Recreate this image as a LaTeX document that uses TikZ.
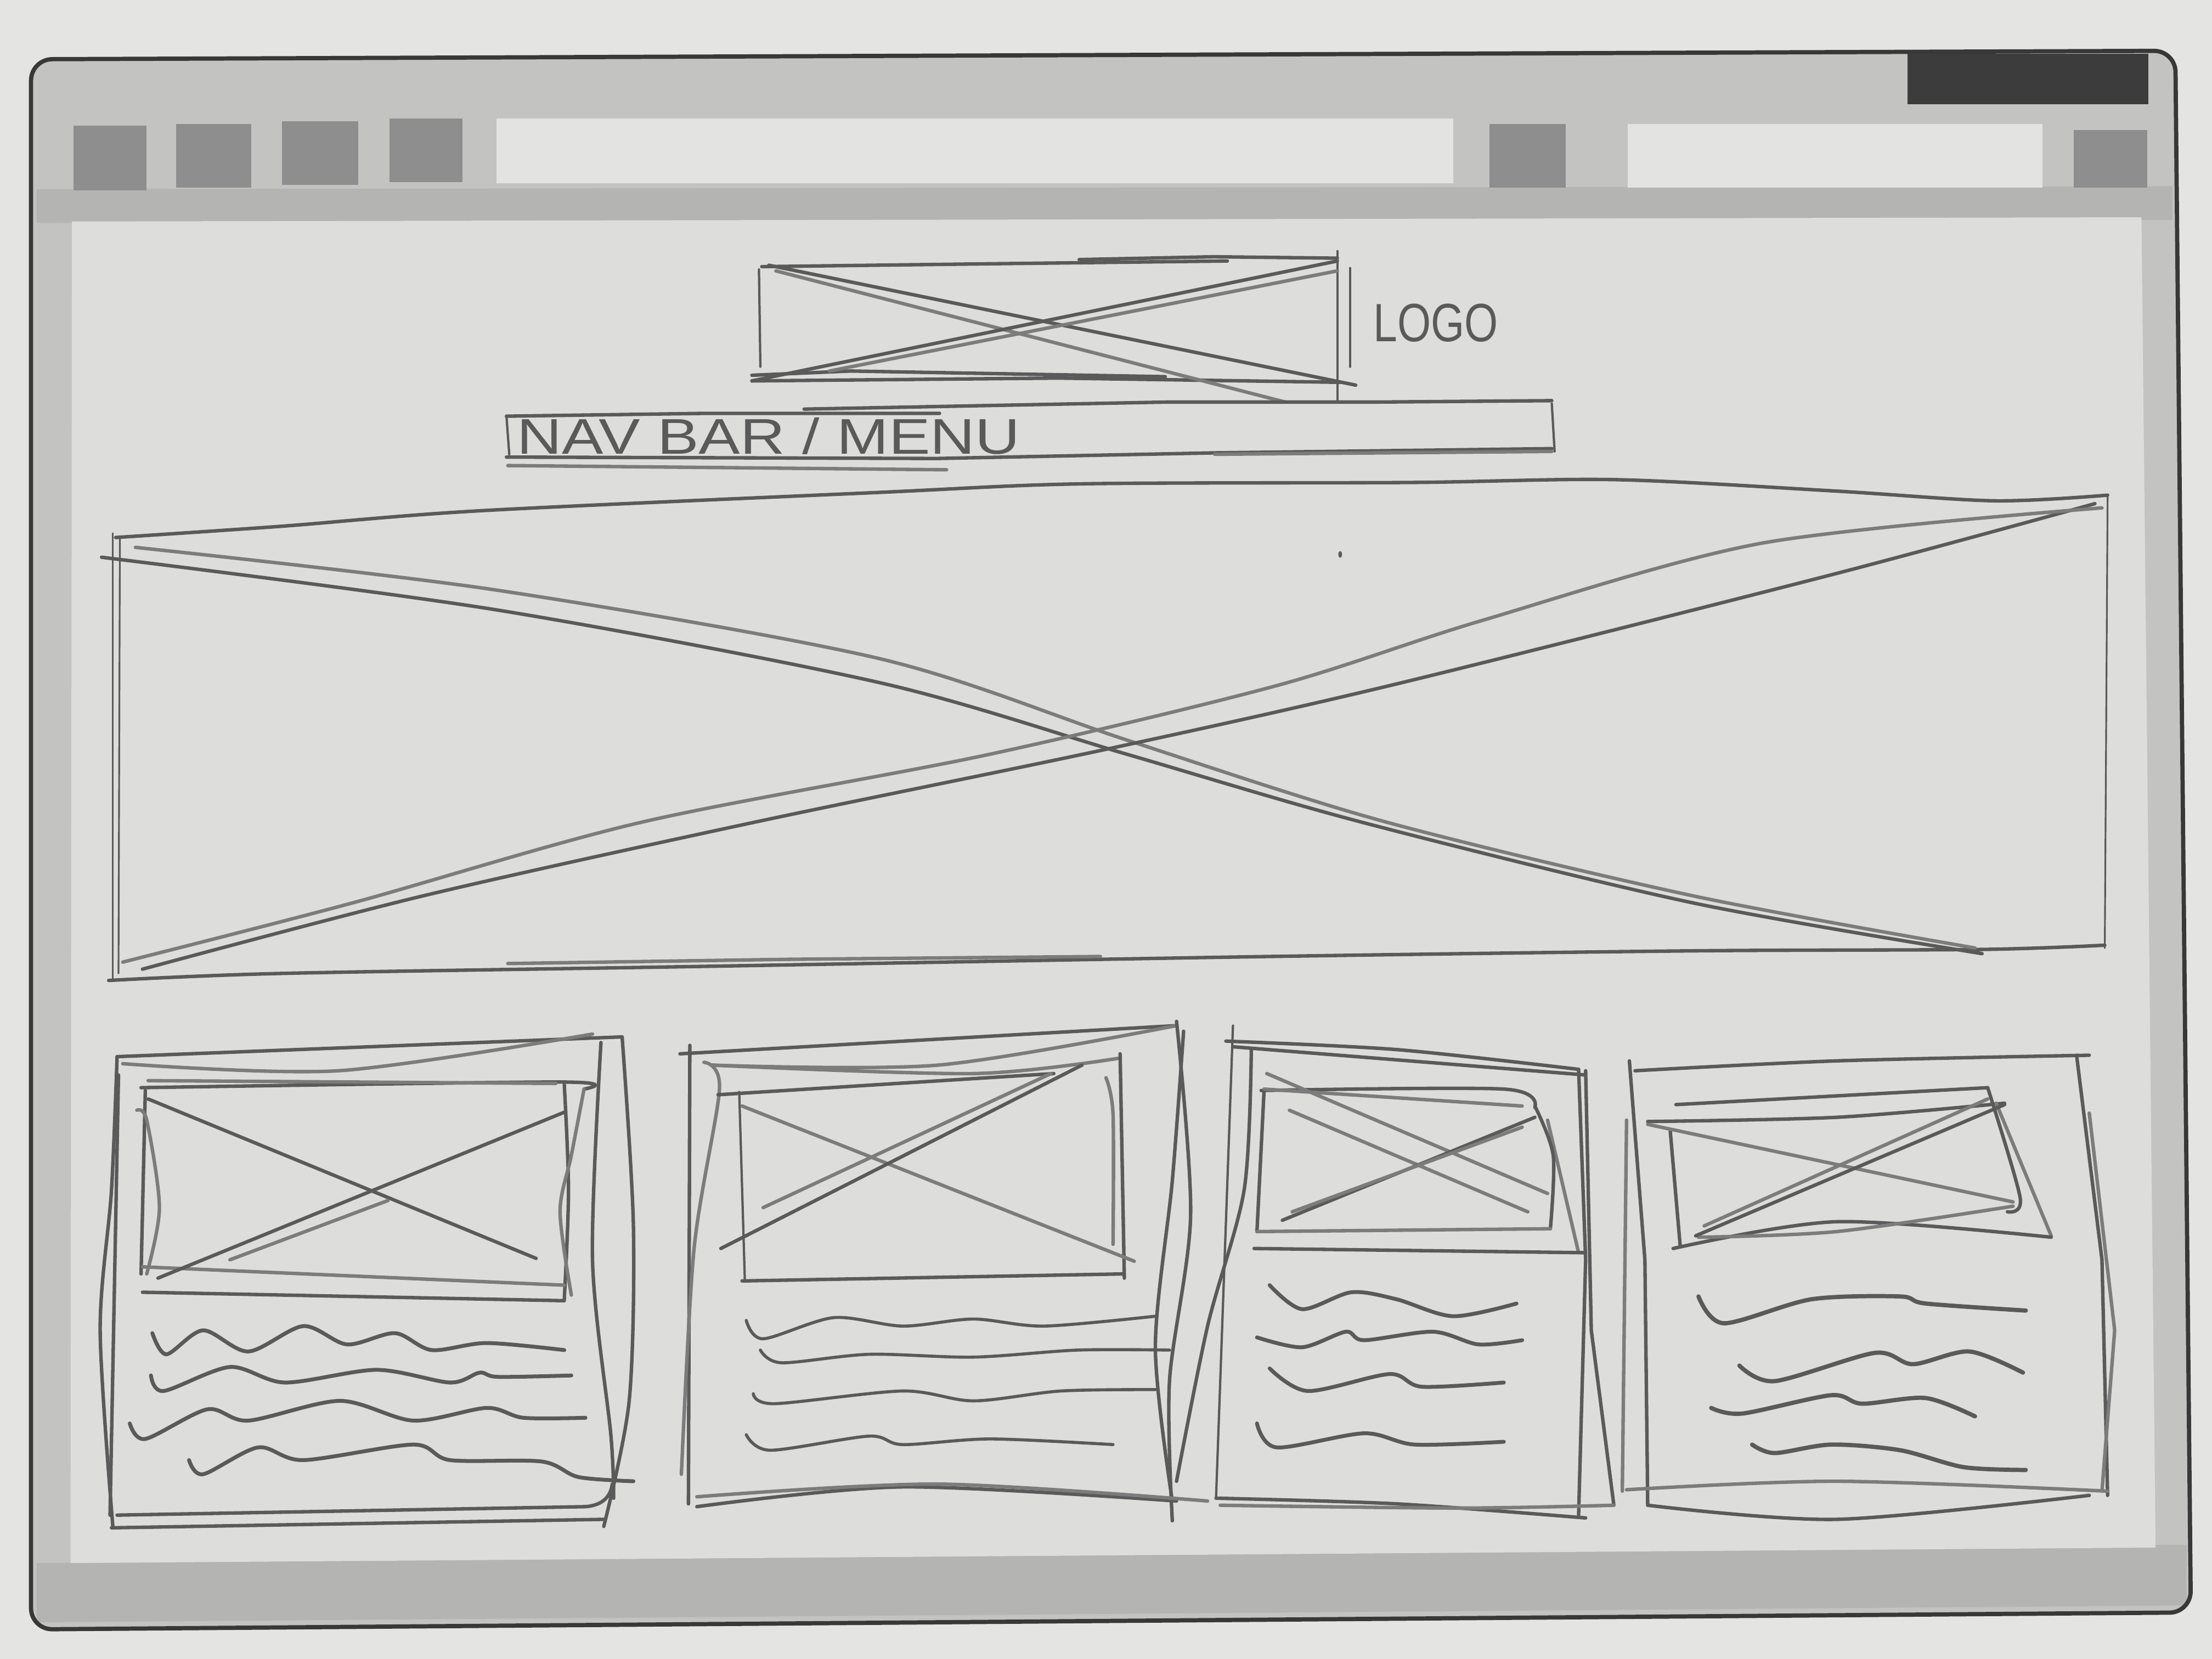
\documentclass[tikz,border=0pt]{standalone}
\usepackage{fontspec}
\setmainfont{Liberation Sans}
\usepackage{graphicx}
\definecolor{paper}{HTML}{E4E4E2}
\definecolor{frame}{HTML}{C3C3C2}
\definecolor{frameD}{HTML}{B4B4B3}
\definecolor{content}{HTML}{DDDDDB}
\definecolor{outline}{HTML}{383838}
\definecolor{darkblk}{HTML}{3C3C3C}
\definecolor{btn}{HTML}{8E8E8E}
\definecolor{bar}{HTML}{E3E3E2}
\definecolor{pencilc}{HTML}{5A5A5A}
\definecolor{pencill}{HTML}{7C7C7C}
\begin{document}
\begin{tikzpicture}[x=0.012857cm,y=-0.012857cm,
  pencil/.style={draw=pencilc, line width=0.9pt, line cap=round, line join=round},
  soft/.style={pencil, draw=pencill},
  thinline/.style={draw=pencilc, line width=0.45pt, line cap=round},
  wave/.style={pencil, line width=1pt},
  btnbox/.style={fill=btn},
  barbox/.style={fill=bar}]
\useasboundingbox (0,0) rectangle (1568,1176);
% paper
\fill[paper] (0,0) rectangle (1568,1176);
% browser window
\fill[frame, rounded corners=5.5pt] (22,42) -- (1542,36) -- (1553,1143) -- (22,1155) -- cycle;
\fill[frameD] (26,134) -- (1540,132) -- (1540,156) -- (26,158) -- cycle;
\fill[frameD] (26,1108) -- (1550,1095) -- (1550,1138) -- (26,1150) -- cycle;
\fill[content] (51,157) -- (1518,154) -- (1528,1097) -- (50,1108) -- cycle;
\draw[outline, line width=1.1pt, rounded corners=5.5pt] (22,42) -- (1542,36) -- (1553,1143) -- (22,1155) -- cycle;
% toolbar
\fill[darkblk] (1352,38) rectangle (1523,74);
\fill[btnbox] (52,89) rectangle (104,135);
\fill[btnbox] (125,88) rectangle (178,133);
\fill[btnbox] (200,86) rectangle (254,131);
\fill[btnbox] (276,84) rectangle (328,129);
\fill[barbox] (352,84) rectangle (1030,130);
\fill[btnbox] (1056,88) rectangle (1110,133);
\fill[barbox] (1154,88) rectangle (1448,133);
\fill[btnbox] (1470,92) rectangle (1522,133);

% ---------- logo box ----------
\draw[pencil] (540,189) -- (700,187) -- (870,185);
\draw[pencil] (765,184) -- (860,182) -- (948,183);
\draw[thinline, line width=0.6pt] (538,191) -- (539,260);
\draw[thinline, line width=0.6pt] (948,178) -- (948,285);
\draw[thinline, line width=0.6pt] (957,190) -- (957,260);
\draw[pencil] (533,266) -- (603,263) -- (826,267);
\draw[pencil] (533,270) -- (750,268) -- (950,271);
\draw[pencil] (545,188) -- (961,273);
\draw[soft] (550,192) -- (911,285);
\draw[pencil] (948,185) -- (533,270);
\draw[soft] (948,192) -- (588,263);
\node[anchor=west, inner sep=0pt, text=pencilc, font=\fontsize{14}{15}\selectfont] (logotext) at (973,229) {\scalebox{0.8}[1]{LOGO}};

% ---------- nav bar ----------
\draw[pencil] (359,295) -- (500,293) -- (666,293);
\draw[pencil] (570,290) -- (827,285) -- (976,285) -- (1100,284);
\draw[thinline, line width=0.6pt] (359,295) -- (361,322);
\draw[thinline, line width=0.6pt] (1100,286) -- (1102,320);
\draw[pencil] (359,324) -- (664,325) -- (861,321) -- (1100,318);
\draw[soft] (360,330) -- (671,333);
\draw[soft] (861,322) -- (1100,320);
\node[anchor=west, inner sep=0pt, text=pencilc, font=\fontsize{13}{14}\selectfont] (navtext) at (366,309) {\scalebox{1.24}[1]{NAV BAR / MENU}};

% ---------- hero ----------
\draw[pencil] plot[smooth] coordinates {(82,381) (200,373) (341,362) (624,349) (765,343) (1000,342) (1145,340) (1300,348) (1414,355) (1494,351)};
\draw[thinline] (80,378) -- (80,695);
\draw[thinline] (85,380) -- (84,690);
\draw[thinline] (1494,351) -- (1492,672);
\draw[pencil] plot[smooth] coordinates {(77,695) (200,690) (500,685) (900,678) (1200,674) (1405,673) (1492,670)};
\draw[soft] (360,683) -- (560,680) -- (780,678);
\draw[pencil] plot[smooth] coordinates {(72,395) (350,432) (624,484) (800,535) (966,583) (1200,640) (1405,676)};
\draw[soft] plot[smooth] coordinates {(96,388) (350,418) (624,467) (800,525) (980,582) (1200,635) (1400,672)};
\draw[pencil] plot[smooth] coordinates {(1485,357) (1296,408) (985,486) (780,532) (534,583) (300,635) (101,687)};
\draw[soft] plot[smooth] coordinates {(1490,360) (1249,385) (1050,440) (905,486) (700,535) (454,583) (250,640) (87,682)};
\fill[pencilc] (950,393) ellipse (1.3 and 2.4);

% ---------- card 1 ----------
\draw[pencil] (83,749) -- (441,735);
\draw[soft] plot[smooth] coordinates {(87,754) (240,759) (420,733)};
\draw[pencil] plot[smooth] coordinates {(83,749) (79,844) (71,943) (80,1082)};
\draw[pencil] (84,762) -- (78,1074);
\draw[pencil] plot[smooth] coordinates {(441,735) (449,869) (446,993) (428,1082)};
\draw[pencil] plot[smooth] coordinates {(426,739) (420,893) (433,1017) (435,1062)};
\draw[pencil] (83,1074) -- (415,1068) .. controls (428,1067) and (433,1060) .. (434,1052);
\draw[pencil] (79,1083) -- (428,1077);
% image
\draw[pencil] plot[smooth] coordinates {(100,771) (397,767) (414,772)};
\draw[soft] (105,766) -- (394,768);
\draw[pencil] (103,773) -- (100,903);
\draw[soft] plot[smooth] coordinates {(97,787) (104,794) (113,856) (104,903)};
\draw[pencil] plot[smooth] coordinates {(400,769) (403,844) (400,921)};
\draw[soft] plot[smooth] coordinates {(414,772) (405,819) (397,859) (405,918)};
\draw[soft] (101,898) -- (400,911);
\draw[pencil] (101,916) -- (400,922);
\draw[pencil] (105,779) -- (380,892);
\draw[pencil] (112,906) -- (401,788);
\draw[soft] (163,893) -- (275,851);
% text lines
\draw[wave] plot[smooth] coordinates {(108,945) (118,960) (144,943) (176,958) (215,940) (246,953) (280,945) (306,957) (345,952) (400,957)};
\draw[wave] plot[smooth] coordinates {(107,975) (116,986) (163,969) (202,980) (267,971) (319,980) (340,973) (353,976) (405,975)};
\draw[wave] plot[smooth] coordinates {(92,1009) (103,1020) (147,999) (176,1007) (241,993) (293,1007) (345,998) (371,1005) (415,1005)};
\draw[wave] plot[smooth] coordinates {(134,1035) (144,1045) (183,1026) (215,1035) (293,1024) (319,1035) (384,1036) (410,1047) (449,1050)};

% ---------- card 2 ----------
\draw[pencil] (482,747) -- (834,727);
\draw[soft] plot[smooth] coordinates {(504,755) (665,755) (834,727)};
\draw[pencil] (489,741) -- (488,1066);
\draw[soft] plot[smooth] coordinates {(499,753) (510,772) (492,885) (483,1045)};
\draw[pencil] plot[smooth] coordinates {(834,724) (844,861) (829,979) (831,1078)};
\draw[pencil] plot[smooth] coordinates {(839,731) (831,837) (819,955) (831,1064)};
\draw[pencil] plot[smooth] coordinates {(494,1068) (640,1054) (834,1064)};
\draw[soft] plot[smooth] coordinates {(494,1061) (665,1052) (856,1064)};
% image
\draw[soft] plot[smooth] coordinates {(504,755) (690,761) (794,750)};
\draw[pencil] (509,776) -- (747,761);
\draw[thinline, line width=0.6pt] (524,774) -- (528,908);
\draw[pencil] (794,747) -- (797,906);
\draw[soft] plot[smooth] coordinates {(784,764) (789,790) (789,882)};
\draw[pencil] (526,908) -- (797,903);
\draw[soft] (526,784) -- (804,894);
\draw[pencil] (511,885) -- (767,755);
\draw[soft] (541,856) -- (745,761);
% text lines
\draw[wave, line width=0.8pt] plot[smooth] coordinates {(529,936) (541,949) (591,934) (640,940) (690,935) (740,940) (819,933)};
\draw[wave, line width=0.8pt] plot[smooth] coordinates {(539,957) (554,966) (616,960) (690,962) (764,957) (829,957)};
\draw[wave, line width=0.8pt] plot[smooth] coordinates {(534,988) (549,995) (640,986) (690,993) (752,986) (819,985)};
\draw[wave, line width=0.8pt] plot[smooth] coordinates {(529,1017) (546,1028) (616,1018) (640,1024) (702,1020) (789,1024)};

% ---------- card 3 ----------
\draw[thinline, line width=0.6pt] (874,727) -- (862,1062);
\draw[pencil] plot[smooth] coordinates {(887,744) (882,843) (856,940) (834,1050)};
\draw[pencil] plot[smooth] coordinates {(869,738) (990,744) (1119,758)};
\draw[pencil] (874,742) -- (1124,762);
\draw[pencil] (1119,758) -- (1124,893) -- (1119,1074);
\draw[pencil] (1124,759) -- (1128,943) -- (1144,1067);
\draw[soft] (1097,794) -- (1119,888);
\draw[pencil] plot[smooth] coordinates {(862,1062) (990,1066) (1124,1076)};
\draw[soft] plot[smooth] coordinates {(865,1067) (1034,1069) (1144,1067)};
% image
\draw[pencil] plot[smooth] coordinates {(894,773) (1066,772) (1088,785)};
\draw[soft] (896,772) -- (1079,784);
\draw[pencil] (896,774) -- (891,873);
\draw[pencil] plot[smooth] coordinates {(1088,784) (1101,819) (1099,871)};
\draw[soft] (891,873) -- (1099,871);
\draw[pencil] (889,885) -- (1124,888);
\draw[soft] (898,761) -- (1097,846);
\draw[soft] (914,787) -- (1083,859);
\draw[pencil] (909,865) -- (1088,792);
\draw[soft] (916,859) -- (1079,799);
% text lines
\draw[wave] plot[smooth] coordinates {(900,911) (923,928) (958,916) (990,921) (1030,933) (1075,924)};
\draw[wave] plot[smooth] coordinates {(891,948) (923,955) (954,944) (967,950) (1016,944) (1048,953) (1079,950)};
\draw[wave] plot[smooth] coordinates {(900,970) (927,986) (985,974) (1008,983) (1066,980)};
\draw[wave] plot[smooth] coordinates {(891,1009) (905,1026) (967,1016) (1003,1024) (1066,1022)};

% ---------- card 4 ----------
\draw[pencil] (1155,752) -- (1166,893) -- (1168,1067);
\draw[soft] (1153,794) -- (1150,1057);
\draw[pencil] plot[smooth] coordinates {(1159,759) (1302,752) (1481,748)};
\draw[pencil] (1472,748) -- (1490,893) -- (1494,1060);
\draw[soft] (1481,789) -- (1499,943) -- (1490,1057);
\draw[pencil] plot[smooth] coordinates {(1168,1067) (1302,1077) (1481,1060)};
\draw[soft] plot[smooth] coordinates {(1153,1056) (1302,1050) (1494,1057)};
% image
\draw[pencil] (1188,783) -- (1409,771);
\draw[pencil] plot[smooth] coordinates {(1168,795) (1302,792) (1421,782)};
\draw[pencil] (1184,802) -- (1191,883);
\draw[pencil] plot[smooth] coordinates {(1409,771) (1432,849) (1423,859)};
\draw[soft] (1415,782) -- (1454,876);
\draw[pencil] plot[smooth] coordinates {(1186,885) (1302,866) (1454,877)};
\draw[soft] plot[smooth] coordinates {(1204,877) (1302,873) (1427,855)};
\draw[soft] (1168,797) -- (1427,852);
\draw[pencil] (1202,876) -- (1421,783);
\draw[soft] (1208,869) -- (1409,779);
% text lines
\draw[wave, line width=1.1pt] plot[smooth] coordinates {(1204,919) (1222,938) (1284,921) (1347,919) (1365,924) (1436,929)};
\draw[wave, line width=1.1pt] plot[smooth] coordinates {(1233,968) (1258,979) (1329,959) (1356,967) (1396,958) (1434,973)};
\draw[wave, line width=1.1pt] plot[smooth] coordinates {(1213,998) (1235,1002) (1298,989) (1320,995) (1365,991) (1400,1004)};
\draw[wave, line width=1.1pt] plot[smooth] coordinates {(1242,1024) (1258,1030) (1298,1024) (1347,1028) (1392,1040) (1436,1042)};
\end{tikzpicture}
\end{document}
